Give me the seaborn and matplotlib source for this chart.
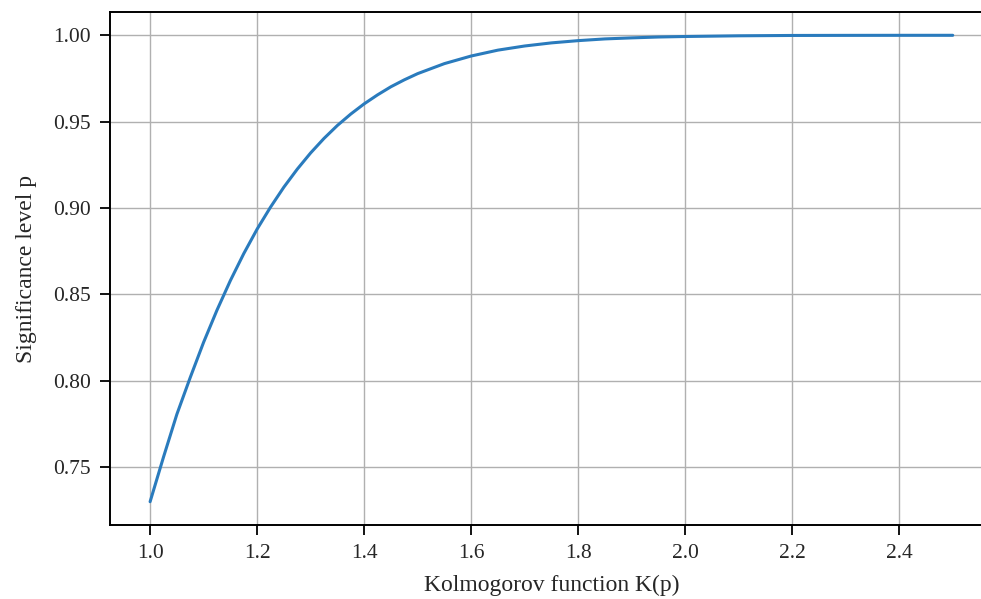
import matplotlib
matplotlib.use("Agg")
import matplotlib.pyplot as plt
import seaborn as sns
import pandas as pd

# Values
k_values = [1.000, 1.025, 1.050, 1.075, 1.100, 1.125, 1.150, 1.175, 1.200,
            1.225, 1.250, 1.275, 1.300, 1.325, 1.350, 1.375, 1.400, 1.425,
            1.450, 1.475, 1.500, 1.550, 1.600, 1.650, 1.700, 1.750, 1.800,
            1.850, 1.900, 1.950, 2.000, 2.100, 2.200, 2.300, 2.400, 2.500]
p_values = [0.7300, 0.7558, 0.7806, 0.8019, 0.8223, 0.8409, 0.8580, 0.8736,
            0.8878, 0.9005, 0.9121, 0.9225, 0.9319, 0.9403, 0.9478, 0.9544,
            0.9603, 0.9655, 0.9702, 0.9742, 0.9778, 0.9836, 0.9880, 0.9914,
            0.9938, 0.9956, 0.9969, 0.9979, 0.9985, 0.9990, 0.9993, 0.9997,
            0.9999, 0.99995, 0.99998, 0.99999]
x_ticks = [1.0, 1.2, 1.4, 1.6, 1.8, 2.0, 2.2, 2.4]
x_label = "Kolmogorov function K(p)"
y_label = "Significance level p"

df = pd.DataFrame({"K": k_values, "p": p_values})

sns.set_style("ticks")
plt.rcParams["font.family"] = ["Liberation Serif", "DejaVu Serif"]
plt.rcParams["axes.edgecolor"] = "black"

fig = plt.figure(figsize=(9.81, 5.99), dpi=100)
ax = fig.add_axes([0.1121, 0.1235, 0.900, 0.8565])
sns.lineplot(data=df, x="K", y="p", ax=ax, color="#2a7bbd", linewidth=2.2)
ax.grid(True, color="#b0b0b0", linewidth=1.0)
ax.set_xticks(x_ticks)
ax.set_xlabel(x_label, fontsize=17, labelpad=8)
ax.set_ylabel(y_label, fontsize=17, labelpad=11)
ax.tick_params(labelsize=15.5, length=7, width=1.3, color="black", pad=7)
for s in ax.spines.values():
    s.set_linewidth(1.4)
    s.set_color("black")

fig.savefig("out.png", dpi=100)
